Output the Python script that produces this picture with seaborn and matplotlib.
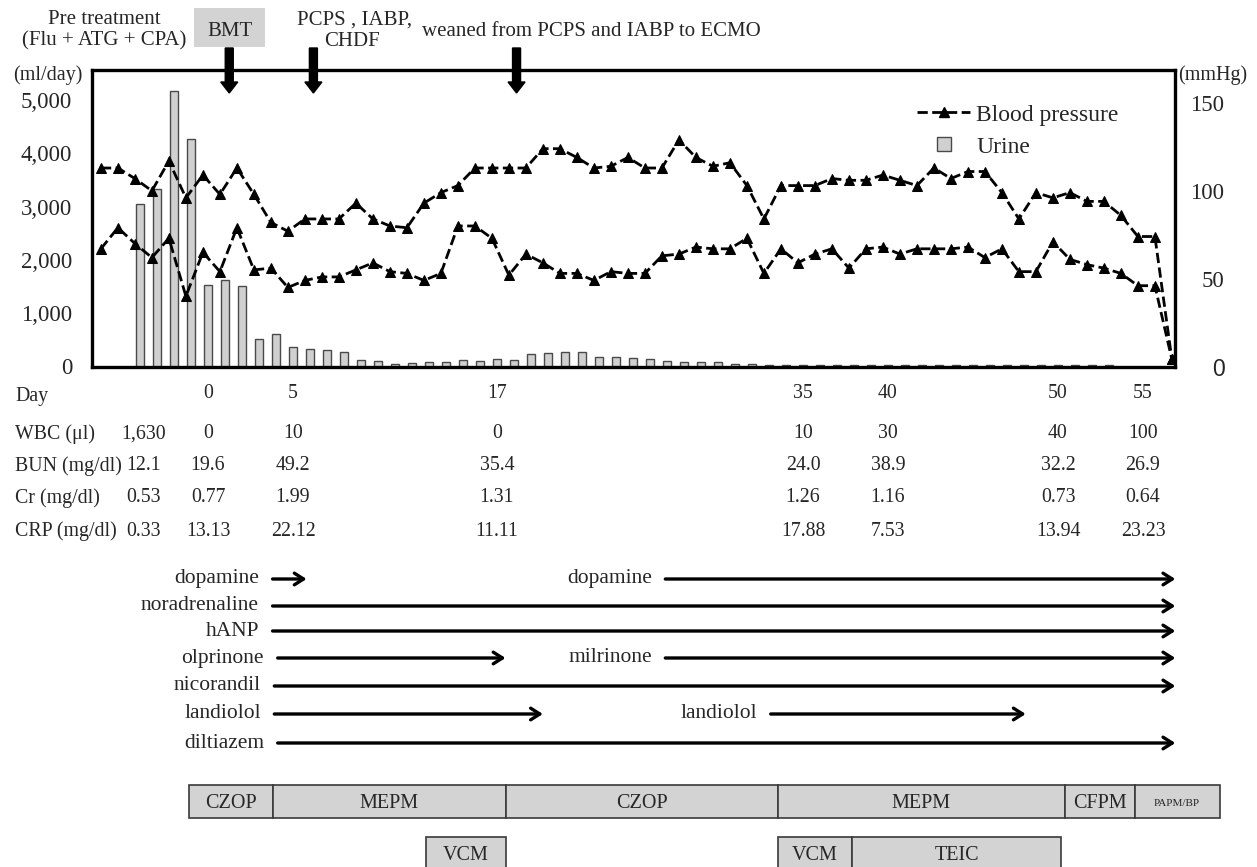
import numpy as np
import pandas as pd
import matplotlib
matplotlib.use("Agg")
import matplotlib.pyplot as plt
from matplotlib.lines import Line2D
from matplotlib.patches import Rectangle
import seaborn as sns

# Urine output (ml/day), one bar per day starting at day -4
urine_days = list(range(-4, 54))
urine_ml = [3050, 3330, 5170, 4270, 1520, 1620, 1510, 520, 610, 360,
            330, 310, 280, 130, 110, 50, 70, 90, 90, 120,
            100, 140, 130, 230, 260, 270, 270, 170, 170, 160,
            140, 110, 90, 80, 80, 55, 40, 35, 30, 30,
            35, 30, 30, 35, 30, 30, 30, 35, 30, 30,
            30, 30, 30, 30, 30, 30, 30, 30]

# Blood pressure (mmHg), one point per day starting at day -6
bp_days = list(range(-6, 58))
bp_upper = [113, 113, 107, 100, 117, 96, 109, 98, 113, 98,
            82, 77, 84, 84, 84, 93, 84, 80, 79, 93,
            99, 103, 113, 113, 113, 113, 124, 124, 119, 113,
            114, 119, 113, 113, 129, 119, 114, 116, 103, 84,
            103, 103, 103, 107, 106, 106, 109, 106, 103, 113,
            107, 111, 111, 99, 84, 99, 96, 99, 94, 94,
            86, 74, 74, 4]
bp_lower = [67, 79, 70, 62, 73, 40, 65, 54, 79, 55,
            56, 45, 49, 51, 51, 55, 59, 54, 53, 49,
            53, 80, 80, 73, 52, 64, 59, 53, 53, 49,
            54, 53, 53, 63, 64, 68, 67, 67, 73, 53,
            67, 59, 64, 67, 56, 67, 68, 64, 67, 67,
            67, 68, 62, 67, 54, 54, 71, 61, 58, 56,
            53, 46, 46, 4]

# Lab table (first column = pre treatment)
lab_days = [0, 5, 17, 35, 40, 50, 55]
pre_col = -3.8
lab_rows = ['WBC (\u03bcl)', 'BUN (mg/dl)', 'Cr (mg/dl)', 'CRP (mg/dl)']
wbc = ['1,630', '0', '10', '0', '10', '30', '40', '100']
bun = ['12.1', '19.6', '49.2', '35.4', '24.0', '38.9', '32.2', '26.9']
cr = ['0.53', '0.77', '1.99', '1.31', '1.26', '1.16', '0.73', '0.64']
crp = ['0.33', '13.13', '22.12', '11.11', '17.88', '7.53', '13.94', '23.23']

# Drugs (days)
drug_names = ['dopamine', 'noradrenaline', 'hANP', 'olprinone', 'nicorandil', 'landiolol', 'diltiazem']
drug_from = [3.8, 3.8, 3.8, 4.1, 3.9, 3.9, 4.1]
drug_to = [5.8, 56.9, 56.9, 17.5, 56.9, 19.7, 56.9]
drug2_names = ['dopamine', 'milrinone', 'landiolol']
drug2_row = [0, 3, 5]
drug2_from = [26.9, 26.9, 33.1]
drug2_to = [56.9, 56.9, 48.1]

# Antibiotics (days)
abx1_names = ['CZOP', 'MEPM', 'CZOP', 'MEPM', 'CFPM', 'PAPM/BP']
abx1_edges = [-1.1, 3.8, 17.5, 33.5, 50.4, 54.5, 59.5]
abx2_names = ['VCM', 'VCM', 'TEIC']
abx2_from = [12.8, 33.5, 37.9]
abx2_to = [17.5, 37.9, 50.2]

# Events marked by arrows
event_days = [1.25, 6.2, 18.15]

sns.set_theme(style='white')
plt.rcParams['font.family'] = ['Liberation Serif', 'DejaVu Serif']
FS = 15
TFS = 14.3

W, H = 1257, 867
fig = plt.figure(figsize=(W / 100, H / 100), dpi=100)

# main chart frame (pixels: left 91.5, right 1174.5, top 70, bottom 366.5)
px0, px1, py0, py1 = 91.5, 1174.5, 70, 366.5
ax = fig.add_axes([px0 / W, 1 - py1 / H, (px1 - px0) / W, (py1 - py0) / H])

sns.barplot(x=urine_days, y=urine_ml, native_scale=True, width=0.42,
            color='#d0d0d0', saturation=1, edgecolor='#4a4a4a', linewidth=1,
            errorbar=None, ax=ax)
ax.set_xlim((px0 - 208) / 17, (px1 - 208) / 17)
ax.set_ylim(0, 5560)
ax.set_xticks([])
ax.set_yticks([0, 1000, 2000, 3000, 4000, 5000])
ax.set_yticklabels(['0', '1,000', '2,000', '3,000', '4,000', '5,000'], fontsize=16.5)
ax.tick_params(axis='y', length=0, pad=14)
ax.set_xlabel('')
ax.set_ylabel('')
for s in ax.spines.values():
    s.set_visible(True)
    s.set_color('black')
    s.set_linewidth(2.4)

ax2 = ax.twinx()
bp_df = pd.DataFrame({
    'day': np.array(bp_days * 2) - 0.3,
    'mmHg': bp_upper + bp_lower,
    'series': ['upper'] * len(bp_days) + ['lower'] * len(bp_days),
})
sns.lineplot(data=bp_df, x='day', y='mmHg', units='series', estimator=None,
             color='black', linestyle='--', linewidth=2.0, marker='^',
             markersize=6.5, markeredgecolor='black', legend=False, ax=ax2)
ax2.set_ylim(0, 168.8)
ax2.set_xlim((px0 - 208) / 17, (px1 - 208) / 17)
ax2.set_yticks([0, 50, 100, 150])
ax2.set_yticklabels(['0', '50', '100', '150'], fontsize=16.5)
ax2.tick_params(axis='y', length=0, pad=36)
for t in ax2.get_yticklabels():
    t.set_horizontalalignment('right')
ax2.get_yticklabels()[0].set_family('Liberation Sans')
ax2.set_xlabel('')
ax2.set_ylabel('')
for s in ax2.spines.values():
    s.set_visible(False)

handles = [
    Line2D([], [], color='black', linestyle='--', linewidth=2.0, marker='^', markersize=6.5),
    Line2D([], [], color='#d0d0d0', linestyle='none', marker='s', markersize=10,
           markeredgecolor='#4a4a4a'),
]
ax2.legend(handles, ['Blood pressure', 'Urine'], loc='upper left',
           bbox_to_anchor=(917 / W, 1 - 104 / H), bbox_transform=fig.transFigure,
           frameon=False, fontsize=17, handlelength=2.25, handletextpad=0.25,
           labelspacing=0.45, borderpad=0, borderaxespad=0)

# overlay: x in days, y in pixels
ov = fig.add_axes([0, 0, 1, 1])
ov.set_xlim(-208 / 17, (W - 208) / 17)
ov.set_ylim(H, 0)
ov.axis('off')
ov.patch.set_alpha(0)


def day_x(px):
    return (px - 208) / 17


ov.text(day_x(48), 75, '(ml/day)', ha='center', va='center', fontsize=14.5)
ov.text(day_x(1213), 75, '(mmHg)', ha='center', va='center', fontsize=14.5)

# top annotations
ov.text(day_x(104), 19, 'Pre treatment', ha='center', va='center', fontsize=FS)
ov.text(day_x(104), 41, '(Flu + ATG + CPA)', ha='center', va='center', fontsize=FS)
ov.add_patch(Rectangle((day_x(194), 8), 71 / 17, 39, facecolor='#d3d3d3', edgecolor='none'))
ov.text(day_x(229.5), 31, 'BMT', ha='center', va='center', fontsize=FS)
ov.text(day_x(355), 20, 'PCPS , IABP,', ha='center', va='center', fontsize=FS)
ov.text(day_x(352), 42, 'CHDF', ha='center', va='center', fontsize=FS)
ov.text(day_x(591), 31, 'weaned from PCPS and IABP to ECMO', ha='center', va='center', fontsize=FS)
for d in event_days:
    ov.arrow(d, 48, 0, 34, width=8 / 17, head_width=17 / 17, head_length=11,
             length_includes_head=False, color='black', zorder=5)

# day row and lab table
ov.text(day_x(15), 396, 'Day', ha='left', va='center', fontsize=TFS)
for d in lab_days:
    ov.text(d, 394, str(d), ha='center', va='center', fontsize=TFS)
row_y = [434, 466, 498, 531]
for label, vals, y in zip(lab_rows, [wbc, bun, cr, crp], row_y):
    ov.text(day_x(15), y, label, ha='left', va='center', fontsize=TFS)
    for d, v in zip([pre_col] + lab_days, vals):
        ov.text(d, y, v, ha='center', va='center', fontsize=TFS)

# drug arrows
drug_y = [579, 606, 631, 658, 686, 714, 743]
arrow_kw = dict(arrowstyle='->,head_length=0.55,head_width=0.35', lw=2.4, color='black',
                shrinkA=0, shrinkB=0)
for name, x0, x1, y in zip(drug_names, drug_from, drug_to, drug_y):
    ov.text(x0 - 0.8, y, name, ha='right', va='center', fontsize=15.5)
    ov.annotate('', xy=(x1, y), xytext=(x0, y), arrowprops=arrow_kw)
for name, r, x0, x1 in zip(drug2_names, drug2_row, drug2_from, drug2_to):
    y = drug_y[r]
    ov.text(x0 - 0.8, y, name, ha='right', va='center', fontsize=15.5)
    ov.annotate('', xy=(x1, y), xytext=(x0, y), arrowprops=arrow_kw)

# antibiotic boxes
box_kw = dict(facecolor='#d3d3d3', edgecolor='#3a3a3a', linewidth=1.2)
for name, x0, x1 in zip(abx1_names, abx1_edges[:-1], abx1_edges[1:]):
    ov.add_patch(Rectangle((x0, 785), x1 - x0, 33, **box_kw))
    ov.text((x0 + x1) / 2, 804, name, ha='center', va='center',
            fontsize=8 if name == 'PAPM/BP' else 14.5)
for name, x0, x1 in zip(abx2_names, abx2_from, abx2_to):
    ov.add_patch(Rectangle((x0, 837), x1 - x0, 34, clip_on=False, **box_kw))
    ov.text((x0 + x1) / 2, 855, name, ha='center', va='center', fontsize=14.5)

fig.savefig('out.png', dpi=100)
